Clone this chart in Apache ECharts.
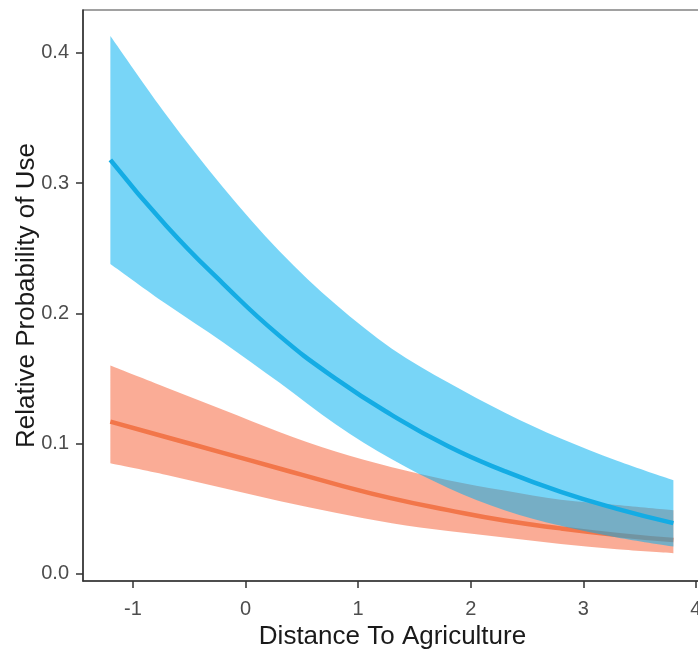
<!DOCTYPE html>
<html>
<head>
<meta charset="utf-8">
<script src="https://cdn.jsdelivr.net/npm/echarts@6/dist/echarts.min.js"></script>
<style>
  html, body { margin: 0; padding: 0; background: #fff; }
  #main { width: 698px; height: 649px; }
</style>
</head>
<body>
<div id="main"></div>
<script>
// 取样的x位置
var distance = [-1.2, -0.7, -0.2, 0.3, 0.8, 1.3, 1.8, 2.3, 2.8, 3.3, 3.8];

// 蓝色组: 拟合线与置信带
var blueFit   = [0.318, 0.267, 0.223, 0.183, 0.150, 0.122, 0.098, 0.079, 0.063, 0.050, 0.039];
var blueUpper = [0.413, 0.352, 0.297, 0.248, 0.207, 0.173, 0.147, 0.124, 0.104, 0.087, 0.072];
var blueLower = [0.238, 0.207, 0.178, 0.147, 0.115, 0.088, 0.066, 0.049, 0.037, 0.028, 0.021];

// 橙色组
var orangeFit   = [0.117, 0.105, 0.093, 0.081, 0.069, 0.058, 0.049, 0.041, 0.035, 0.030, 0.026];
var orangeUpper = [0.160, 0.143, 0.126, 0.109, 0.094, 0.082, 0.072, 0.064, 0.057, 0.053, 0.049];
var orangeLower = [0.085, 0.076, 0.066, 0.056, 0.047, 0.039, 0.033, 0.028, 0.023, 0.019, 0.016];

// 刻度
var xTicks = [-1, 0, 1, 2, 3, 4];
var yTicks = [0, 0.1, 0.2, 0.3, 0.4];

function pairs(ys) {
  return distance.map(function (x, i) { return [x, ys[i]]; });
}

// 平滑曲线段 (Catmull-Rom 转 bezier)
function curveSegs(pts) {
  var d = '';
  for (var i = 0; i < pts.length - 1; i++) {
    var p0 = pts[Math.max(i - 1, 0)], p1 = pts[i], p2 = pts[i + 1], p3 = pts[Math.min(i + 2, pts.length - 1)];
    var c1x = p1[0] + (p2[0] - p0[0]) / 6, c1y = p1[1] + (p2[1] - p0[1]) / 6;
    var c2x = p2[0] - (p3[0] - p1[0]) / 6, c2y = p2[1] - (p3[1] - p1[1]) / 6;
    d += ' C' + c1x + ' ' + c1y + ' ' + c2x + ' ' + c2y + ' ' + p2[0] + ' ' + p2[1];
  }
  return d;
}

// 置信带: 用custom系列画路径
function band(name, upper, lower, color, z) {
  return {
    name: name,
    type: 'custom',
    z: z,
    silent: true,
    data: [0],
    renderItem: function (params, api) {
      var top = distance.map(function (x, i) { return api.coord([x, upper[i]]); });
      var bot = distance.map(function (x, i) { return api.coord([x, lower[i]]); }).reverse();
      var d = 'M' + top[0][0] + ' ' + top[0][1] + curveSegs(top) +
              ' L' + bot[0][0] + ' ' + bot[0][1] + curveSegs(bot) + ' Z';
      return {
        type: 'path',
        shape: { pathData: d },
        style: { fill: color, stroke: null }
      };
    }
  };
}

function fitLine(name, ys, color, z) {
  return {
    name: name,
    type: 'line',
    z: z,
    data: pairs(ys),
    smooth: true,
    showSymbol: false,
    lineStyle: { color: color, width: 4.5 }
  };
}

var myChart = echarts.init(document.getElementById('main'));

var option = {
  animation: false,
  backgroundColor: '#fff',
  grid: {
    left: 83,
    top: 10,
    right: -4,
    bottom: 68,
    show: true,
    borderColor: '#444',
    borderWidth: 1.2,
    containLabel: false,
    outerBoundsMode: 'none'
  },
  xAxis: {
    type: 'value',
    min: -1.443,
    max: 4.054,
    name: 'Distance To Agriculture',
    nameLocation: 'middle',
    nameGap: 37,
    nameTextStyle: { fontSize: 26, color: '#1a1a1a', fontFamily: 'Liberation Sans' },
    splitLine: { show: false },
    axisLine: { onZero: false, lineStyle: { color: '#333', width: 1.5 } },
    axisTick: { length: 7, lineStyle: { color: '#333', width: 1.5 }, customValues: xTicks },
    axisLabel: {
      customValues: xTicks,
      margin: 18,
      fontSize: 20,
      color: '#4d4d4d',
      fontFamily: 'Liberation Sans'
    }
  },
  yAxis: {
    type: 'value',
    min: -0.0054,
    max: 0.433,
    name: 'Relative Probability of Use',
    nameLocation: 'middle',
    nameGap: 43,
    nameMoveOverlap: false,
    nameTextStyle: { fontSize: 26, color: '#1a1a1a', fontFamily: 'Liberation Sans' },
    splitLine: { show: false },
    axisLine: { onZero: false, lineStyle: { color: '#333', width: 1.5 } },
    axisTick: { length: 7, lineStyle: { color: '#333', width: 1.5 }, customValues: yTicks },
    axisLabel: {
      customValues: yTicks,
      margin: 14,
      fontSize: 20,
      color: '#4d4d4d',
      fontFamily: 'Liberation Sans',
      formatter: function (v) { return v.toFixed(1); }
    }
  },
  series: [
    band('orangeBand', orangeUpper, orangeLower, 'rgba(245,90,45,0.5)', 1),
    fitLine('orange', orangeFit, '#f2764a', 2),
    band('blueBand', blueUpper, blueLower, 'rgba(0,175,240,0.53)', 3),
    fitLine('blue', blueFit, '#14ace4', 4)
  ]
};

myChart.setOption(option);
</script>
</body>
</html>
